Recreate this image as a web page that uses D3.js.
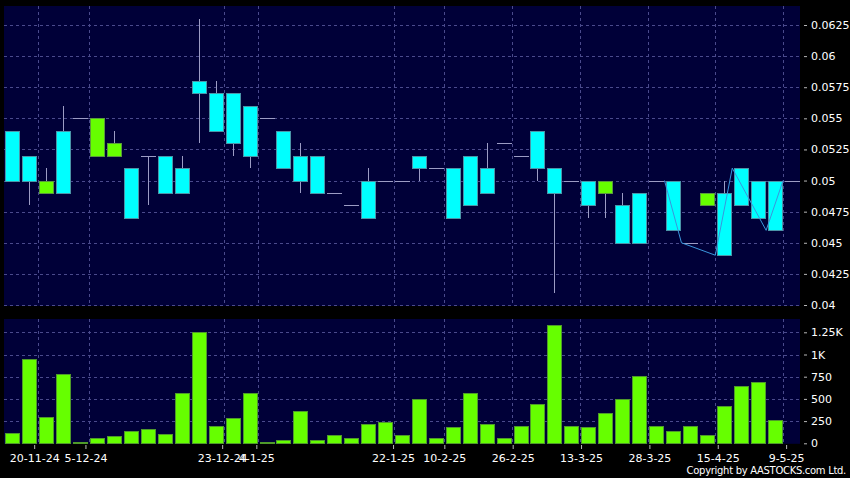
<!DOCTYPE html>
<html><head><meta charset="utf-8">
<script src="https://cdn.jsdelivr.net/npm/d3@7"></script>
<style>body{margin:0;background:#000;} svg{display:block;}</style>
</head><body><svg id="c" width="850" height="478"></svg>
<script>
const opens  = [0.054,0.052,0.049,0.054,0.055,0.052,0.052,0.051,0.052,0.052,0.051,0.058,0.057,0.057,0.056,0.055,0.054,0.052,0.052,0.049,0.048,0.050,0.050,0.050,0.052,0.051,0.051,0.052,0.051,0.053,0.052,0.054,0.051,0.050,0.050,0.049,0.048,0.049,0.050,0.050,0.045,0.048,0.049,0.051,0.050,0.050,0.050];
const highs  = [0.054,0.052,0.051,0.056,0.055,0.055,0.054,0.051,0.052,0.052,0.052,0.063,0.058,0.057,0.056,0.055,0.054,0.053,0.052,0.049,0.048,0.051,0.050,0.050,0.052,0.051,0.051,0.052,0.053,0.053,0.052,0.054,0.051,0.050,0.050,0.050,0.049,0.049,0.050,0.050,0.045,0.049,0.050,0.051,0.050,0.050,0.050];
const lows   = [0.050,0.048,0.049,0.049,0.055,0.052,0.052,0.047,0.048,0.049,0.049,0.053,0.054,0.052,0.051,0.055,0.051,0.049,0.049,0.049,0.048,0.047,0.050,0.050,0.050,0.051,0.047,0.048,0.049,0.053,0.052,0.050,0.041,0.050,0.047,0.047,0.045,0.045,0.050,0.046,0.045,0.048,0.044,0.048,0.047,0.046,0.050];
const closes = [0.050,0.050,0.050,0.049,0.055,0.055,0.053,0.047,0.052,0.049,0.049,0.057,0.054,0.053,0.052,0.055,0.051,0.050,0.049,0.049,0.048,0.047,0.050,0.050,0.051,0.051,0.047,0.048,0.049,0.053,0.052,0.051,0.049,0.050,0.048,0.050,0.045,0.045,0.050,0.046,0.045,0.049,0.044,0.048,0.047,0.046,0.050];
const volumes = [116,946,300,785,15,60,79,139,161,101,563,1250,199,282,563,15,38,360,38,98,60,218,240,98,503,60,180,563,218,60,199,443,1329,199,180,342,503,762,199,139,199,98,420,642,687,259,0];
const tickSlots = [2,5,13,15,23,26,30,34,38,42,46];
const tickLabels = ["20-11-24","5-12-24","23-12-24","4-1-25","22-1-25","10-2-25","26-2-25","13-3-25","28-3-25","15-4-25","9-5-25"];
const priceTicks = [0.04,0.0425,0.045,0.0475,0.05,0.0525,0.055,0.0575,0.06,0.0625];
const volTicks = [0,250,500,750,1000,1250];
const volTickLabels = ["0","250","500","750","1K","1.25K"];
const lineSlots = [39,40,42,43,45,46];
const lineValues = [0.05,0.045,0.044,0.051,0.046,0.05];

const n = opens.length;
const svg = d3.select("#c");
const L = 4, R = 800;
const FONT = "DejaVu Sans";
const x  = d3.scaleLinear().domain([0, n]).range([L, R]);       // slot boundaries
const xa = d3.scaleLinear().domain([0, n]).range([0, 803.2]);   // date axis
const y  = d3.scaleLinear().domain([0.04, 0.0625]).range([305, 25]);
const yv = d3.scaleLinear().domain([0, 1250]).range([443.3, 332.3]);

svg.append("rect").attr("width",850).attr("height",478).attr("fill","#000");
// panels
svg.append("rect").attr("x",L).attr("y",6).attr("width",R-L).attr("height",300).attr("fill","#000038");
svg.append("rect").attr("x",L).attr("y",319).attr("width",R-L).attr("height",124.8).attr("fill","#000038");

const grid = svg.append("g").attr("stroke","#4a4a8c").attr("stroke-dasharray","3,3").attr("shape-rendering","crispEdges");
priceTicks.forEach(t => grid.append("line").attr("x1",L).attr("x2",R).attr("y1",Math.round(y(t))+0.5).attr("y2",Math.round(y(t))+0.5));
volTicks.filter(t=>t>0).forEach(t => grid.append("line").attr("x1",L).attr("x2",R).attr("y1",Math.round(yv(t))+0.5).attr("y2",Math.round(yv(t))+0.5));
tickSlots.forEach(s => {
  const gx = Math.round(x(s))+0.5;
  grid.append("line").attr("x1",gx).attr("x2",gx).attr("y1",6).attr("y2",306);
  grid.append("line").attr("x1",gx).attr("x2",gx).attr("y1",319).attr("y2",443.8);
});

const data = opens.map((o,i)=>({i, o, h:highs[i], l:lows[i], c:closes[i], v:volumes[i]}));
const cx = d => Math.round(x(d.i+0.5));

// wicks
const gw = svg.append("g").attr("stroke","#9c9cc4").attr("stroke-width",1).attr("shape-rendering","crispEdges");
data.forEach(d => {
  if (d.h !== d.l) gw.append("line").attr("x1",cx(d)+0.5).attr("x2",cx(d)+0.5).attr("y1",y(d.h)).attr("y2",y(d.l));
  if (d.o === d.c) gw.append("line").attr("x1",cx(d)-7).attr("x2",cx(d)+8).attr("y1",Math.round(y(d.o))+0.5).attr("y2",Math.round(y(d.o))+0.5);
});
// bodies
svg.append("g").attr("shape-rendering","crispEdges").selectAll("rect").data(data.filter(d=>d.o!==d.c)).join("rect")
  .attr("x", d => cx(d)-6.5)
  .attr("width", 14)
  .attr("y", d => Math.round(y(Math.max(d.o,d.c)))+0.5)
  .attr("height", d => Math.round(y(Math.min(d.o,d.c))) - Math.round(y(Math.max(d.o,d.c))))
  .attr("fill", d => d.c > d.o ? "#66ff00" : "#00ffff")
  .attr("stroke", d => d.c > d.o ? "#5a9a3c" : "#4a95a8")
  .attr("stroke-width",1);

// thin line
svg.append("path").datum(lineSlots.map((s,k)=>[x(s), y(lineValues[k])]))
  .attr("d", d3.line()).attr("fill","none").attr("stroke","#3a96dc").attr("stroke-width",1);

// volume bars
svg.append("g").attr("shape-rendering","crispEdges").selectAll("rect").data(data.filter(d=>d.v>0)).join("rect")
  .attr("x", d => cx(d)-7.5+0.5)
  .attr("width", 14)
  .attr("y", d => Math.round(yv(d.v))+0.5)
  .attr("height", d => Math.max(1, Math.round(yv(0)) - Math.round(yv(d.v))))
  .attr("fill","#66ff00").attr("stroke","#4f9a2a").attr("stroke-width",1);

function styleAxis(g){
  g.select(".domain").remove();
  g.selectAll(".tick line").attr("stroke","#b8b8b8");
  g.selectAll(".tick text").attr("fill","#fff").attr("font-family",FONT).attr("font-size",11);
}
svg.append("g").attr("transform","translate(804,0)")
  .call(d3.axisRight(y).tickValues(priceTicks).tickFormat(d=>String(+d.toFixed(4))).tickSize(3).tickPadding(4))
  .call(styleAxis);
svg.append("g").attr("transform","translate(804,0)")
  .call(d3.axisRight(yv).tickValues(volTicks).tickFormat((d,i)=>volTickLabels[i]).tickSize(3).tickPadding(4))
  .call(styleAxis);
svg.append("g").attr("transform","translate(0,445)")
  .call(d3.axisBottom(xa).tickValues(tickSlots).tickFormat((d,i)=>tickLabels[i]).tickSize(4).tickPadding(5))
  .call(styleAxis);

svg.append("text").attr("x",846).attr("y",474).attr("text-anchor","end")
  .attr("fill","#fff").attr("font-family",FONT).attr("font-size",10).attr("letter-spacing","-0.3")
  .text("Copyright by AASTOCKS.com Ltd.");
</script></body></html>
